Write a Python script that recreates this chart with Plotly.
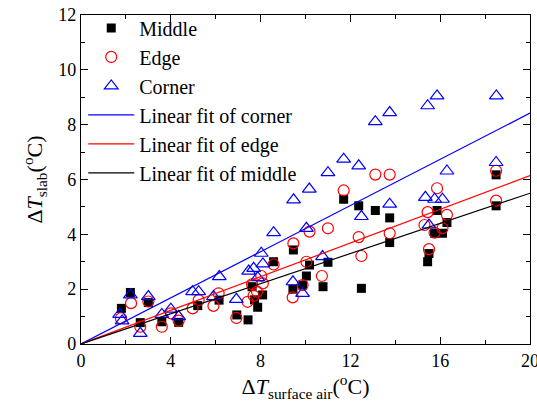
import plotly.graph_objects as go

# Middle (black squares)
middle_x = [1.8, 2.2, 2.64, 3.0, 3.6, 4.35, 5.2, 6.15, 6.94, 7.44, 7.62, 7.73, 7.87, 8.09, 8.58,
            9.46, 9.44, 9.87, 10.04, 10.18, 10.78, 11.0, 11.7, 12.37, 12.49, 13.11, 13.75, 13.75,
            15.44, 15.5, 15.75, 15.86, 16.1, 16.3, 18.49, 18.49]
middle_y = [1.3, 1.88, 0.78, 1.51, 0.81, 0.79, 1.4, 1.6, 1.06, 0.88, 2.09, 1.61, 1.34, 1.79, 3.0,
            3.43, 2.0, 2.15, 2.48, 2.88, 2.09, 2.98, 5.28, 5.04, 2.03, 4.87, 4.6, 3.7,
            3.0, 3.3, 4.04, 4.87, 4.04, 4.43, 5.04, 6.17]

# Edge (red open circles)
edge_x = [1.78, 2.23, 2.64, 3.0, 3.6, 4.0, 4.35, 4.97, 5.24, 5.9, 6.13, 6.92, 7.42, 7.62, 7.69,
          7.84, 8.03, 8.1, 8.58, 9.43, 9.46, 9.87, 10.04, 10.18, 10.73, 11.0, 11.7, 12.37, 12.49,
          13.11, 13.75, 13.75, 15.3, 15.44, 15.5, 15.75, 15.86, 16.1, 16.3, 18.49, 18.49]
edge_y = [0.94, 1.49, 0.63, 1.55, 0.63, 1.12, 0.85, 1.3, 1.6, 1.39, 1.85, 0.95, 1.54, 2.18, 1.76,
          1.91, 2.48, 2.21, 2.9, 1.7, 3.67, 2.15, 3.0, 4.1, 2.48, 4.22, 5.6, 3.9, 3.21,
          6.18, 6.18, 4.04, 4.34, 4.81, 3.46, 4.06, 5.68, 4.22, 4.71, 5.23, 6.32]

# Corner (blue open triangles)
corner_x = [1.72, 1.83, 2.2, 2.64, 3.0, 3.6, 4.0, 4.35, 4.97, 5.24, 5.9, 6.16, 6.92, 7.47, 7.69,
            7.87, 8.03, 8.1, 8.58, 9.44, 9.47, 9.87, 10.04, 10.17, 10.76, 11.0, 11.7, 12.37, 12.49,
            13.11, 13.75, 13.75, 15.34, 15.44, 15.5, 15.75, 15.86, 16.1, 16.3, 18.49, 18.5]
corner_y = [1.08, 0.84, 1.79, 0.39, 1.73, 1.08, 1.27, 1.0, 1.91, 1.91, 1.73, 2.46, 1.63, 2.66, 2.76,
            2.42, 3.31, 2.92, 4.06, 2.27, 5.26, 1.85, 4.22, 5.65, 3.19, 6.25, 6.74, 6.5, 4.65,
            8.11, 8.44, 5.1, 5.35, 8.69, 4.34, 5.28, 9.05, 5.28, 6.31, 6.62, 9.05]

# Linear fits through origin (slopes)
fit_x = [0, 20]
slope_corner = 0.421
slope_edge = 0.307
slope_middle = 0.275

FONT = "Liberation Serif"

fig = go.Figure()
fig.add_trace(go.Scatter(x=middle_x, y=middle_y, mode="markers", name="Middle",
                         legendgroup="a",
                         marker=dict(symbol="square", size=9, color="black")))
fig.add_trace(go.Scatter(x=edge_x, y=edge_y, mode="markers", name="Edge",
                         legendgroup="b",
                         marker=dict(symbol="circle-open", size=11, color="red", line=dict(width=1.2))))
fig.add_trace(go.Scatter(x=corner_x, y=corner_y, mode="markers", name="Corner",
                         legendgroup="c",
                         marker=dict(symbol="triangle-up-open", size=12, color="blue", line=dict(width=1.2))))
fig.add_trace(go.Scatter(x=fit_x, y=[slope_corner * v for v in fit_x], mode="lines",
                         name="Linear fit of corner", legendgroup="d",
                         line=dict(color="blue", width=1.2)))
fig.add_trace(go.Scatter(x=fit_x, y=[slope_edge * v for v in fit_x], mode="lines",
                         name="Linear fit of edge", legendgroup="e",
                         line=dict(color="red", width=1.2)))
fig.add_trace(go.Scatter(x=fit_x, y=[slope_middle * v for v in fit_x], mode="lines",
                         name="Linear fit of middle", legendgroup="f",
                         line=dict(color="black", width=1.2)))

axis_common = dict(
    showline=True, linecolor="black", linewidth=1.2, mirror="ticks",
    ticks="inside", ticklen=7, tickwidth=1, tickcolor="black",
    showgrid=False, zeroline=False, ticklabeloverflow="allow", automargin=False,
    tickfont=dict(family=FONT, size=18, color="black"),
)

fig.update_xaxes(range=[0, 20], dtick=4, tick0=0,
                 minor=dict(ticks="inside", ticklen=4, dtick=2, tickcolor="black"),
                 title=dict(text="Δ<i>T</i><sub>surface air</sub>(<sup>o</sup>C)",
                            font=dict(family=FONT, size=22, color="black"), standoff=7),
                 **axis_common)
fig.update_yaxes(range=[0, 12], dtick=2, tick0=0,
                 minor=dict(ticks="inside", ticklen=4, dtick=1, tickcolor="black"),
                 title=dict(text="Δ<i>T</i><sub>slab</sub>(<sup>o</sup>C)",
                            font=dict(family=FONT, size=22, color="black"), standoff=9),
                 **axis_common)

fig.update_layout(
    width=537, height=407,
    margin=dict(l=81, r=7, t=15, b=63),
    plot_bgcolor="white", paper_bgcolor="white",
    font=dict(family=FONT, size=18, color="black"),
    legend=dict(x=0.005, y=1.02, xanchor="left", yanchor="top",
                bgcolor="rgba(0,0,0,0)", borderwidth=0,
                font=dict(family=FONT, size=20, color="black"),
                itemwidth=46, tracegroupgap=0, traceorder="normal"),
    showlegend=True,
)

fig.write_html("out.html")
